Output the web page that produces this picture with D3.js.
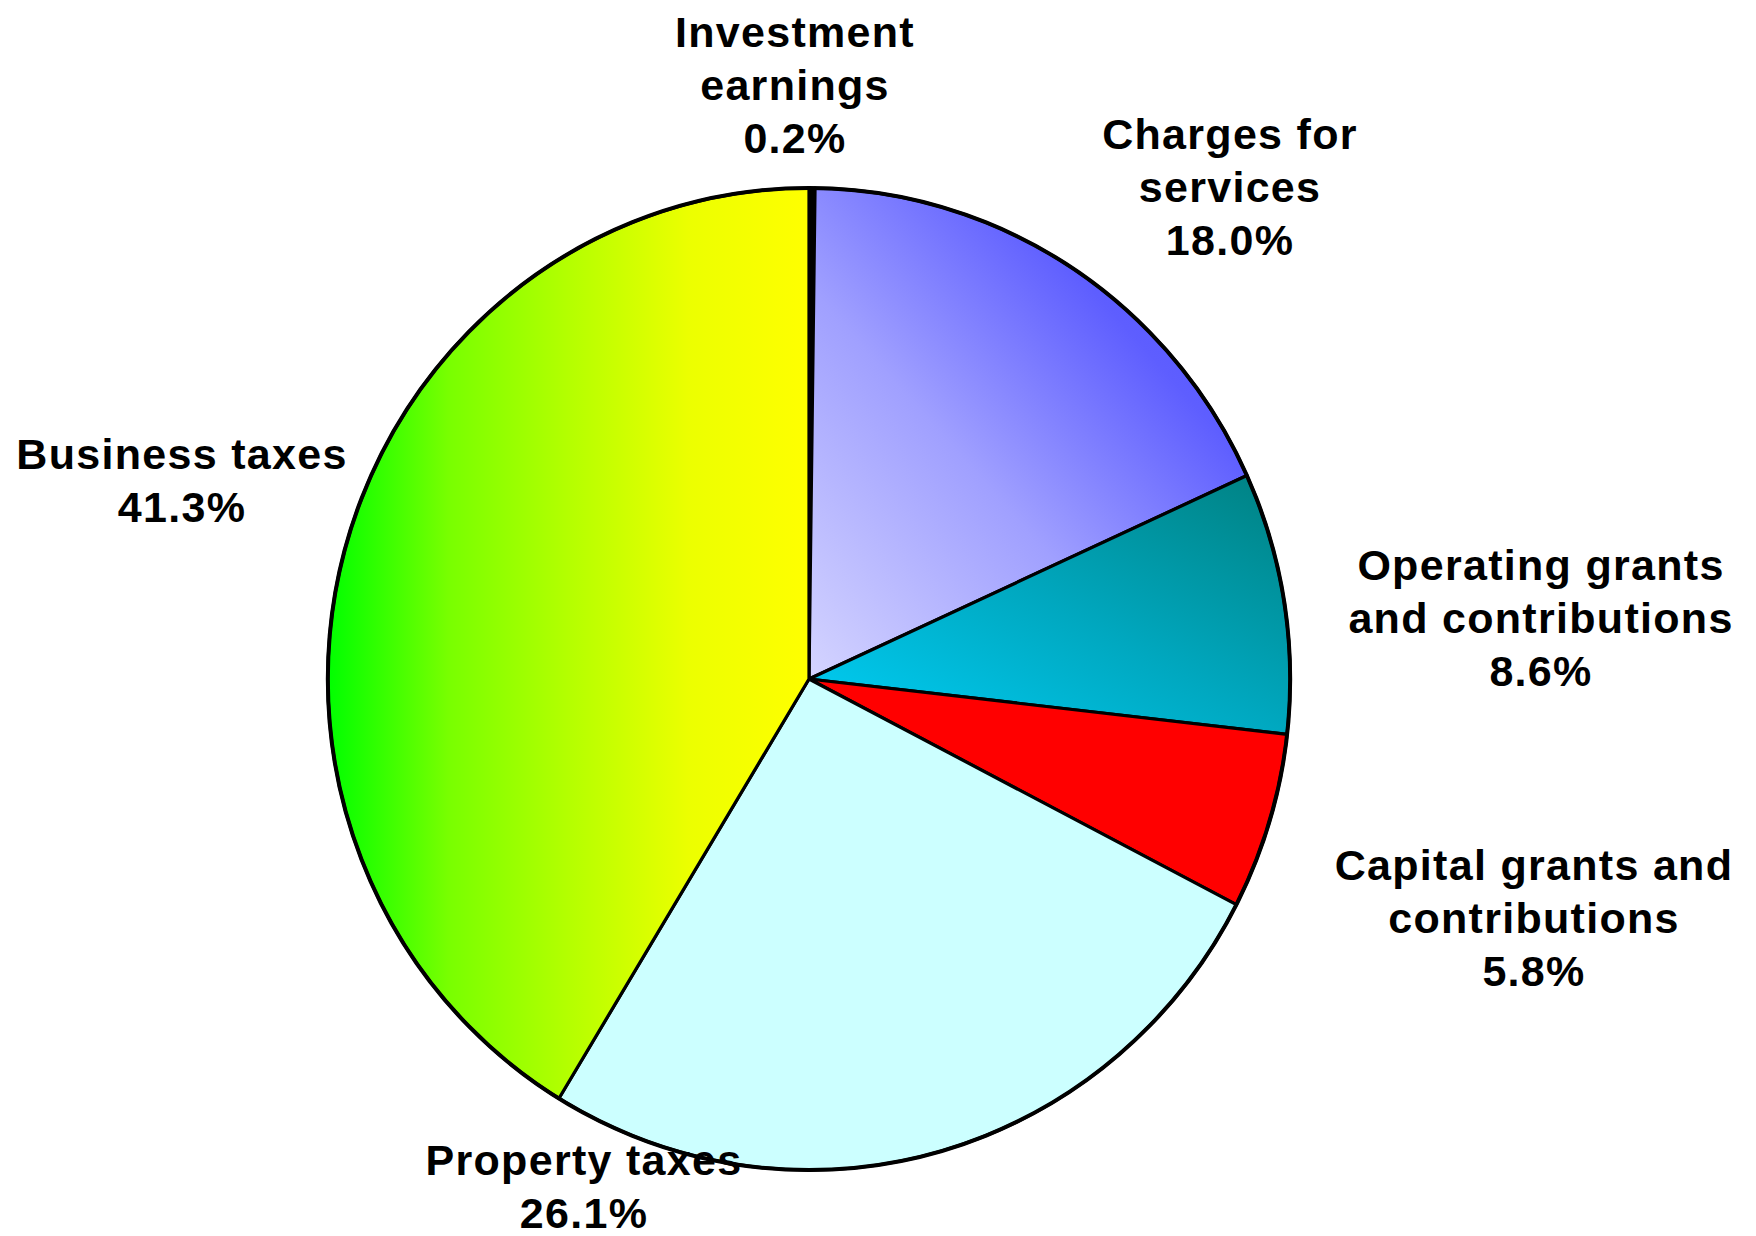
<!DOCTYPE html>
<html>
<head>
<meta charset="utf-8">
<script src="https://cdn.jsdelivr.net/npm/d3@7"></script>
<style>
  html, body { margin: 0; padding: 0; background: #ffffff; }
  svg { display: block; }
  .lbl { font-family: "Liberation Sans", Arial, sans-serif; font-weight: bold; font-size: 43px; letter-spacing: 1.3px; fill: #000; }
</style>
</head>
<body>
<script>
// ---- data ----
const categories = ["Investment earnings", "Charges for services", "Operating grants and contributions",
                    "Capital grants and contributions", "Property taxes", "Business taxes"];
const values = [0.2, 18.0, 8.6, 5.8, 26.1, 41.3];
const labelLines = [
  ["Investment", "earnings"],
  ["Charges for", "services"],
  ["Operating grants", "and contributions"],
  ["Capital grants and", "contributions"],
  ["Property taxes"],
  ["Business taxes"]
];

// ---- layout / style (not data) ----
const W = 1756, H = 1236;
const cx = 809, cy = 679, R = 491, sx = 0.98;
const labelAnchor = [
  {x: 795, y: 47},
  {x: 1230, y: 149},
  {x: 1541, y: 580},
  {x: 1534, y: 880},
  {x: 584, y: 1175},
  {x: 182, y: 469}
];
const lineH = 53;

const svg = d3.select("body").append("svg").attr("width", W).attr("height", H);
const defs = svg.append("defs");

function linGrad(id, x1, y1, x2, y2, stops) {
  const g = defs.append("linearGradient").attr("id", id)
    .attr("x1", x1).attr("y1", y1).attr("x2", x2).attr("y2", y2);
  stops.forEach(s => g.append("stop").attr("offset", s[0]).attr("stop-color", s[1]));
}
linGrad("gCharges", 0, 1, 1, 0, [[0, "#d4d4ff"], [0.4, "#a0a0ff"], [0.72, "#5e5eff"], [1, "#4c4cff"]]);
linGrad("gOper", 0, 1, 1, 0, [[0, "#00d0f8"], [0.5, "#00a8c0"], [1, "#008080"]]);
linGrad("gBiz", 0, 0, 1, 0, [[0, "#00ff00"], [0.25, "#78ff00"], [0.5, "#b4ff00"], [0.75, "#ecff00"], [1, "#ffff00"]]);

const fills = ["#000000", "url(#gCharges)", "url(#gOper)", "#ff0000", "#ccffff", "url(#gBiz)"];

const pie = d3.pie().sort(null).value(d => d.v).startAngle(0).endAngle(2 * Math.PI);
const arc = d3.arc().innerRadius(0).outerRadius(R);
const data = categories.map((c, i) => ({c, v: values[i], i}));
const arcs = pie(data);

const g = svg.append("g").attr("transform", `translate(${cx},${cy}) scale(${sx},1)`);
g.selectAll("path.slice").data(arcs).enter().append("path")
  .attr("class", "slice")
  .attr("d", arc)
  .attr("fill", d => fills[d.data.i])
  .attr("stroke", "#000")
  .attr("stroke-width", 3.2)
  .attr("stroke-linejoin", "round")
  .attr("vector-effect", "non-scaling-stroke");

// outer rim slightly heavier
g.append("ellipse").attr("rx", R).attr("ry", R).attr("fill", "none")
  .attr("stroke", "#000").attr("stroke-width", 4).attr("vector-effect", "non-scaling-stroke");

const fmt = d3.format(".1f");
const lbl = svg.append("g");
arcs.forEach(d => {
  const i = d.data.i;
  const lines = labelLines[i].concat([fmt(d.data.v) + "%"]);
  const t = lbl.append("text").attr("class", "lbl").attr("text-anchor", "middle");
  lines.forEach((ln, k) => {
    t.append("tspan").attr("x", labelAnchor[i].x).attr("y", labelAnchor[i].y + k * lineH).text(ln);
  });
});
</script>
</body>
</html>
